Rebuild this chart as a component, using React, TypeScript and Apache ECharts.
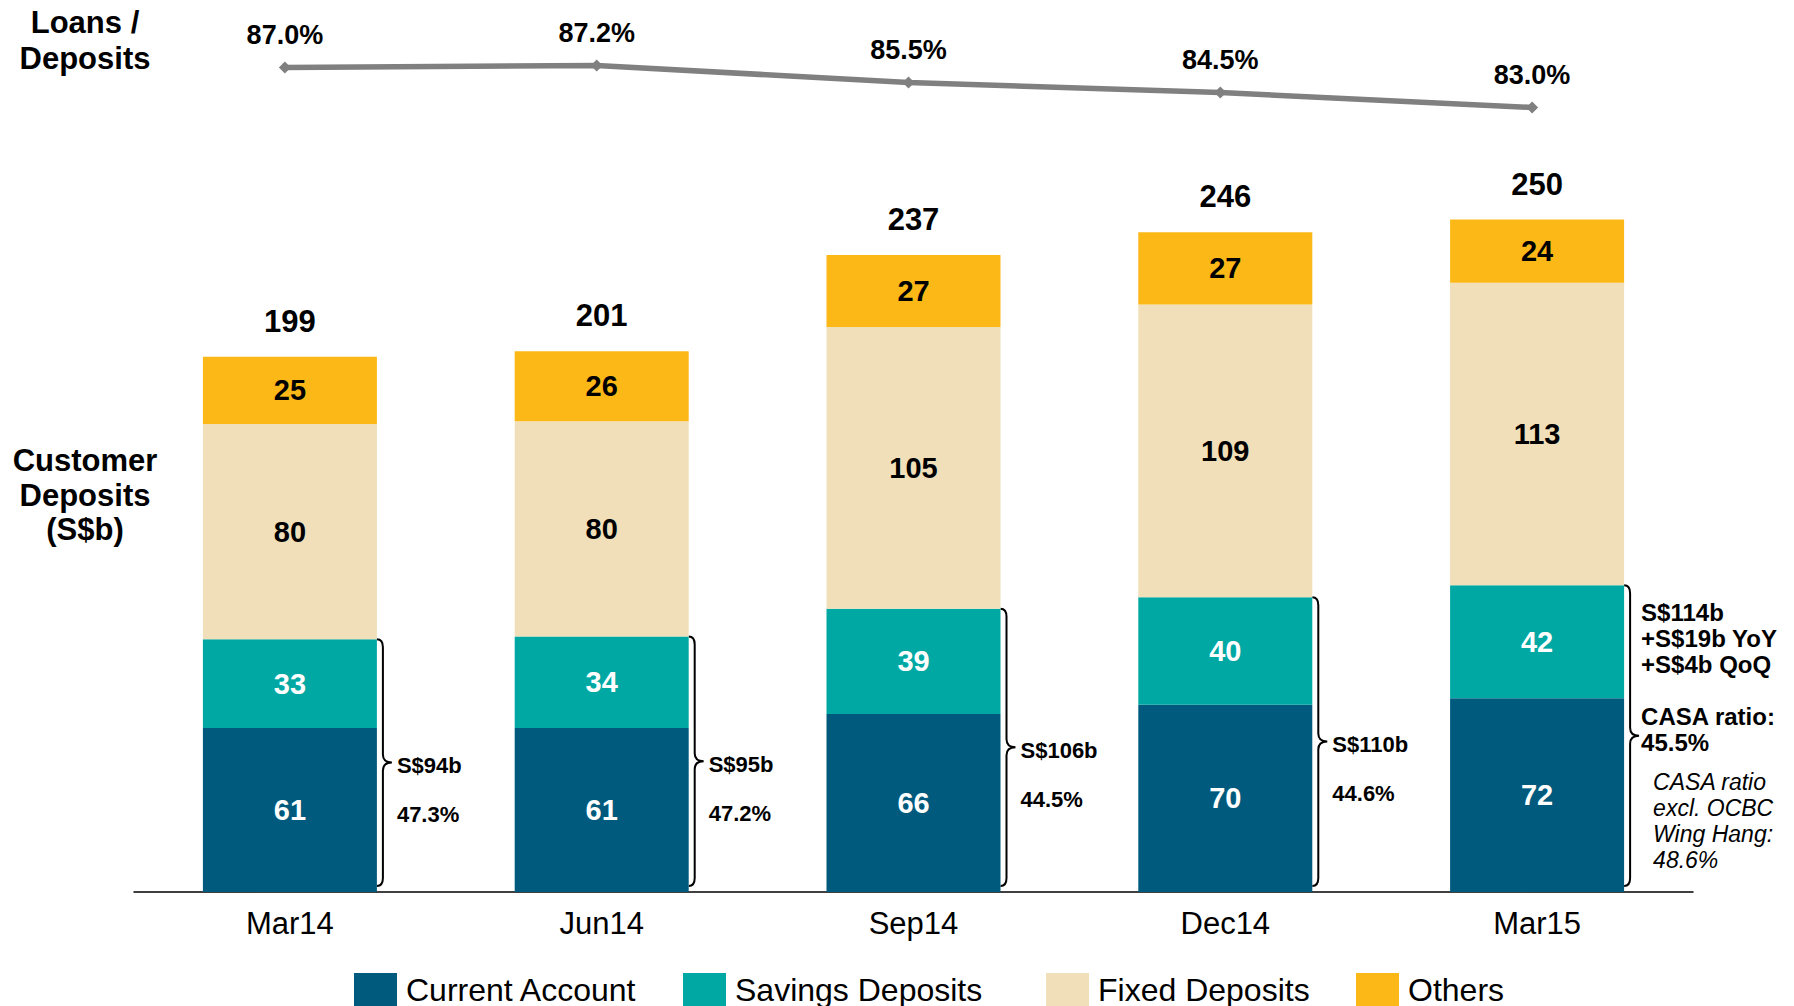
import React, { useEffect, useRef } from "react";
import * as echarts from "echarts";

const categories = ["Mar14", "Jun14", "Sep14", "Dec14", "Mar15"];
const currentAccount = [61, 61, 66.2, 69.6, 72];
const savingsDeposits = [33, 34, 39.1, 40, 42];
const fixedDeposits = [80, 80, 104.7, 108.8, 112.5];
const others = [25, 26, 26.8, 26.9, 23.5];
const totals = [199, 201, 237, 246, 250];
const loansToDeposits = [87.0, 87.2, 85.5, 84.5, 83.0];
const casaLabels = ["S$94b", "S$95b", "S$106b", "S$110b", "S$114b\n+S$19b YoY\n+S$4b QoQ"];
const casaRatios = ["47.3%", "47.2%", "44.5%", "44.6%", "CASA ratio:\n45.5%"];
const casaNote = "CASA ratio\nexcl. OCBC\nWing Hang:\n48.6%";
const seriesNames = ["Current Account", "Savings Deposits", "Fixed Deposits", "Others"];

const FONT = '"Liberation Sans", Arial, Helvetica, sans-serif';
const COLORS = ["#005A7D", "#00A8A4", "#F0DFB8", "#FBB817"];
const BAR_W = 174;
const LEGEND_LEFT = [354, 683, 1046, 1356];

function txt(text: string, x: number, y: number, size: number, opts: any = {}) {
  return {
    type: "text",
    x,
    y,
    style: {
      text,
      fill: "#000",
      fontSize: size,
      fontWeight: opts.weight || "bold",
      fontStyle: opts.style || "normal",
      fontFamily: FONT,
      align: opts.align || "left",
      verticalAlign: opts.valign || "middle",
      textAlign: opts.align || "left",
      textVerticalAlign: opts.valign || "middle",
      lineHeight: opts.lh || size,
    },
  };
}

export default function App() {
  const ref = useRef<HTMLDivElement>(null);

  useEffect(() => {
    document.body.style.margin = "0";
    const chart = echarts.init(ref.current!, null, { renderer: "svg" });

    const stackTops = categories.map(
      (_, i) => currentAccount[i] + savingsDeposits[i] + fixedDeposits[i] + others[i]
    );
    const casaTops = categories.map((_, i) => currentAccount[i] + savingsDeposits[i]);

    const barSeries = [currentAccount, savingsDeposits, fixedDeposits, others].map((data, k) => ({
      name: seriesNames[k],
      type: "bar",
      stack: "deposits",
      xAxisIndex: 0,
      yAxisIndex: 0,
      barWidth: BAR_W,
      data,
      itemStyle: { color: COLORS[k] },
      label: {
        show: true,
        position: "inside",
        color: k < 2 ? "#fff" : "#000",
        fontSize: 29,
        fontWeight: "bold",
        fontFamily: FONT,
        formatter: (p: any) => String(Math.round(p.value)),
      },
    }));

    const legends = seriesNames.map((name, k) => ({
      data: [name],
      left: LEGEND_LEFT[k],
      top: 973,
      padding: 0,
      itemWidth: 43,
      itemHeight: 34,
      icon: "rect",
      textStyle: { color: "#000", fontSize: 32, lineHeight: 34, fontFamily: FONT, padding: [0, 0, 0, 4] },
    }));

    const option: any = {
      animation: false,
      textStyle: { fontFamily: FONT },
      grid: [
        { left: 134, right: 101, top: 85, bottom: 114 },
        { left: 129, right: 106, top: 37.5, bottom: 868.5 },
      ],
      xAxis: [
        {
          type: "category",
          gridIndex: 0,
          data: categories,
          axisLine: { lineStyle: { color: "#000", width: 1.5 } },
          axisTick: { show: false },
          axisLabel: { color: "#000", fontSize: 31, margin: 16, fontFamily: FONT },
        },
        { type: "category", gridIndex: 1, data: categories, show: false },
      ],
      yAxis: [
        { type: "value", gridIndex: 0, min: 0, max: 300, show: false },
        { type: "value", gridIndex: 1, min: 80, max: 90, show: false },
      ],
      legend: legends,
      graphic: [
        txt("Loans /\nDeposits", 85, 4, 31, { align: "center", valign: "top", lh: 36 }),
        txt("Customer\nDeposits\n(S$b)", 85, 443.7, 31, { align: "center", valign: "top", lh: 34.5 }),
      ],
      series: [
        ...barSeries,
        {
          name: "totals",
          type: "custom",
          xAxisIndex: 0,
          yAxisIndex: 0,
          data: stackTops.map((v, i) => [i, v, totals[i]]),
          encode: { x: 0, y: 1 },
          renderItem: (params: any, api: any) => {
            const p = api.coord([api.value(0), api.value(1)]);
            return txt(String(api.value(2)), p[0], p[1] - 20, 31, { align: "center", valign: "bottom" });
          },
        },
        {
          name: "casa",
          type: "custom",
          xAxisIndex: 0,
          yAxisIndex: 0,
          data: casaTops.map((v, i) => [i, v]),
          encode: { x: 0, y: 1 },
          renderItem: (params: any, api: any) => {
            const i = params.dataIndex;
            const top = api.coord([api.value(0), api.value(1)]);
            const base = api.coord([api.value(0), 0]);
            const bx = top[0] + BAR_W / 2;
            const yT = top[1];
            const yB = base[1] - 6;
            const yM = (yT + yB) / 2;
            const x1 = bx + 6;
            const tip = bx + 15;
            const d =
              `M${bx} ${yT} Q${x1} ${yT} ${x1} ${yT + 8} L${x1} ${yM - 8} ` +
              `Q${x1} ${yM} ${tip} ${yM} Q${x1} ${yM} ${x1} ${yM + 8} ` +
              `L${x1} ${yB - 8} Q${x1} ${yB} ${bx} ${yB}`;
            const children: any[] = [
              { type: "path", shape: { pathData: d }, style: { fill: "none", stroke: "#000", lineWidth: 2 } },
            ];
            if (i < categories.length - 1) {
              children.push(txt(casaLabels[i], bx + 20, yM + 3, 22));
              children.push(txt(casaRatios[i], bx + 20, yM + 52, 22));
            } else {
              children.push(txt(casaLabels[i], bx + 17, yM - 97, 24, { lh: 26 }));
              children.push(txt(casaRatios[i], bx + 17, yM - 6, 24, { lh: 25.5 }));
              children.push(txt(casaNote, bx + 29, yM + 85, 23, { weight: "normal", style: "italic", lh: 26 }));
            }
            return { type: "group", children };
          },
        },
        {
          name: "Loans / Deposits",
          type: "line",
          xAxisIndex: 1,
          yAxisIndex: 1,
          data: loansToDeposits,
          symbol: "diamond",
          symbolSize: 12,
          lineStyle: { color: "#808080", width: 5.5 },
          itemStyle: { color: "#808080" },
          label: {
            show: true,
            position: "top",
            distance: 13,
            color: "#000",
            fontSize: 27,
            fontWeight: "bold",
            fontFamily: FONT,
            formatter: (p: any) => p.value.toFixed(1) + "%",
          },
        },
      ],
    };

    chart.setOption(option);
    return () => chart.dispose();
  }, []);

  return <div ref={ref} style={{ width: 1794, height: 1006 }} />;
}
